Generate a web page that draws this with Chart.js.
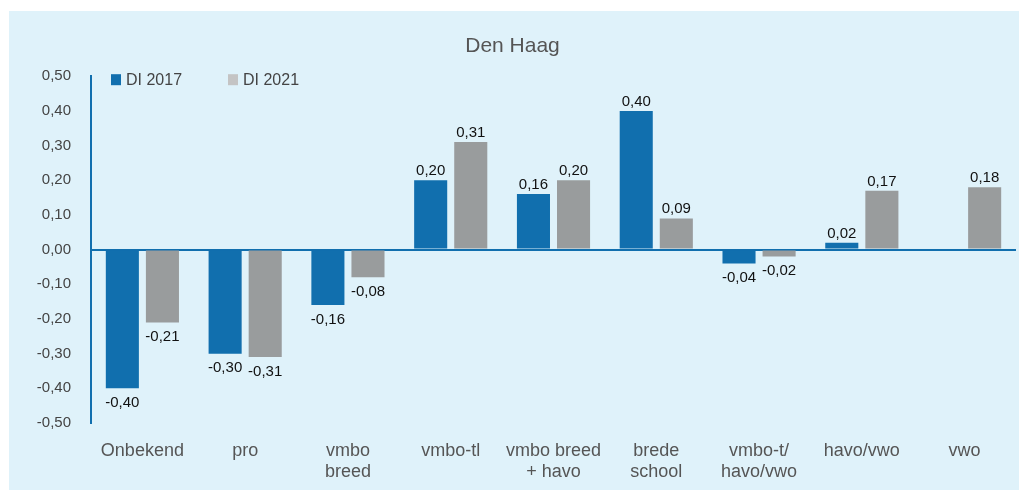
<!DOCTYPE html>
<html>
<head>
<meta charset="utf-8">
<script src="https://cdn.jsdelivr.net/npm/chart.js@4"></script>
<style>
  body { margin: 0; background: #fff; }
  #wrap { position: absolute; left: 9px; top: 11px; width: 1010px; height: 479px; background: #dff2fa; }
</style>
</head>
<body>
<div id="wrap"><canvas id="myChart" width="1010" height="479"></canvas></div>
<script>
const categories = [["Onbekend"], ["pro"], ["vmbo", "breed"], ["vmbo-tl"], ["vmbo breed", "+ havo"], ["brede", "school"], ["vmbo-t/", "havo/vwo"], ["havo/vwo"], ["vwo"]];
const di2017 = [-0.40, -0.30, -0.16, 0.20, 0.16, 0.40, -0.04, 0.02, null];
const di2021 = [-0.21, -0.31, -0.08, 0.31, 0.20, 0.09, -0.02, 0.17, 0.18];

const blue = "#116fae";
const grey = "#999c9d";
const fontFam = "'Liberation Sans', Arial, sans-serif";

function fmt(v) {
  return v.toFixed(2).replace(".", ",");
}

// values next to the bars
const barLabels = {
  id: "barLabels",
  afterDatasetsDraw(chart) {
    const ctx = chart.ctx;
    ctx.save();
    ctx.font = "15px " + fontFam;
    ctx.fillStyle = "#111";
    ctx.textAlign = "center";
    chart.data.datasets.forEach((ds, i) => {
      chart.getDatasetMeta(i).data.forEach((bar, j) => {
        const v = ds.data[j];
        if (v === null) return;
        if (v >= 0) {
          ctx.textBaseline = "alphabetic";
          ctx.fillText(fmt(v), bar.x, bar.y - 5);
        } else {
          ctx.textBaseline = "top";
          ctx.fillText(fmt(v), bar.x, bar.y + 7);
        }
      });
    });
    ctx.restore();
  }
};

// legend inside the plot, top left
const innerLegend = {
  id: "innerLegend",
  afterDraw(chart) {
    const ctx = chart.ctx;
    const area = chart.chartArea;
    ctx.save();
    ctx.font = "16px " + fontFam;
    ctx.textBaseline = "middle";
    const y = area.top + 3;
    const xs = [area.left + 20, area.left + 137];
    const boxColors = [blue, "#c4c4c4"];
    chart.data.datasets.forEach((ds, i) => {
      ctx.fillStyle = boxColors[i];
      ctx.fillRect(xs[i], y - 5, 10, 11);
      ctx.fillStyle = "#444";
      ctx.fillText(ds.label, xs[i] + 15, y + 1);
    });
    ctx.restore();
  }
};

new Chart("myChart", {
  type: "bar",
  data: {
    labels: categories,
    datasets: [{
      label: "DI 2017",
      data: di2017,
      backgroundColor: blue,
      categoryPercentage: 0.78,
      barPercentage: 0.825
    }, {
      label: "DI 2021",
      data: di2021,
      backgroundColor: grey,
      categoryPercentage: 0.78,
      barPercentage: 0.825
    }]
  },
  options: {
    responsive: false,
    animation: false,
    layout: {padding: {left: 0, right: 3, bottom: 0}},
    plugins: {
      legend: {display: false},
      tooltip: {enabled: false},
      title: {
        display: true,
        text: "Den Haag",
        color: "#555",
        font: {family: fontFam, size: 21, weight: "normal"},
        padding: {top: 23, bottom: 17}
      }
    },
    scales: {
      x: {
        grid: {display: false},
        border: {display: false},
        afterFit: s => { s.height = 67; },
        ticks: {
          color: "#555",
          padding: 9,
          font: {family: fontFam, size: 18, lineHeight: 1.2},
          maxRotation: 0
        }
      },
      y: {
        min: -0.5,
        max: 0.5,
        afterFit: s => { s.width = 82; },
        border: {color: blue, width: 2},
        grid: {
          drawTicks: false,
          color: ctx => ctx.tick && Math.abs(ctx.tick.value) < 1e-9 ? blue : "transparent",
          lineWidth: 2
        },
        ticks: {
          stepSize: 0.1,
          padding: 20,
          color: "#444",
          font: {family: fontFam, size: 15},
          callback: v => fmt(v)
        }
      }
    }
  },
  plugins: [barLabels, innerLegend]
});
</script>
</body>
</html>
